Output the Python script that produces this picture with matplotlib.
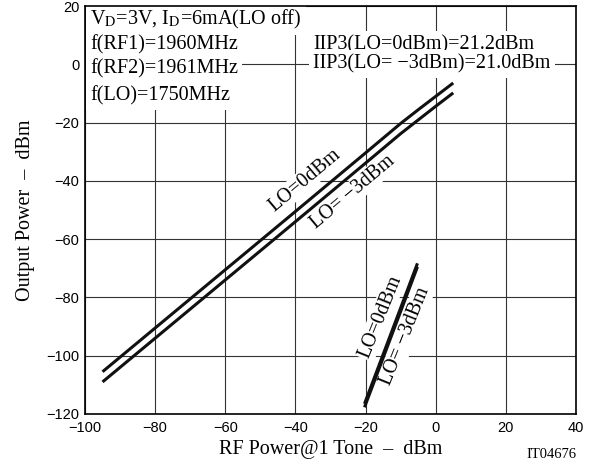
import numpy as np
import matplotlib.pyplot as plt

# fundamental output (dBm) vs RF input (dBm)
rf_in = [-95, -80, -60, -40, -20, -10, -5, 0, 5]
pout_lo0 = [-105.5, -90.5, -70.5, -50.5, -30.4, -20.3, -15.6, -11.0, -6.4]
pout_lo3 = [-109.0, -94.0, -74.0, -54.0, -33.9, -23.8, -19.1, -14.4, -9.8]

# third-order intermod products
im3_in = [-20.3, -5.2]
im3_lo0 = [-116.5, -68.3]
im3_lo3 = [-117.7, -69.5]

xticks = [-100, -80, -60, -40, -20, 0, 20, 40]
yticks = [-120, -100, -80, -60, -40, -20, 0, 20]

serif = 'Liberation Serif'
sans = 'Liberation Sans'

fig = plt.figure(figsize=(5.91, 4.65), dpi=100)
ax = fig.add_axes([0.1438, 0.1097, 0.8308, 0.8773])

ax.set_xlim(-100, 40)
ax.set_ylim(-120, 20)
ax.set_xticks(xticks)
ax.set_yticks(yticks)
ax.set_xticklabels([str(v).replace('-', '\u2212') for v in xticks], fontfamily=sans, fontsize=10.5)
ax.set_yticklabels([str(v).replace('-', '\u2212') for v in yticks], fontfamily=sans, fontsize=10.5)
ax.tick_params(axis='x', length=0, pad=5)
ax.tick_params(axis='y', length=0, pad=4)
ax.grid(True, color='#333333', lw=0.8)
ax.set_axisbelow(True)
for s in ax.spines.values():
    s.set_linewidth(1.2)

ax.plot(rf_in, pout_lo0, color='#111111', lw=2.2, solid_capstyle='butt', zorder=3)
ax.plot(rf_in, pout_lo3, color='#111111', lw=2.2, solid_capstyle='butt', zorder=3)
ax.plot(im3_in, im3_lo0, color='#111111', lw=2.2, solid_capstyle='butt', zorder=3)
ax.plot(im3_in, im3_lo3, color='#111111', lw=2.2, solid_capstyle='butt', zorder=3)

box = dict(facecolor='white', edgecolor='none', pad=3.0)
tkw = dict(fontfamily=serif, fontsize=14.5, bbox=box, zorder=2)

ax.text(-98.6, 15.5, r'V$_\mathrm{D}$=3V, I$_\mathrm{D}$=6mA(LO off)', va='center', ha='left',
        math_fontfamily='stix', **tkw)
ax.text(-98.6, 6.6, 'f(RF1)=1960MHz', va='center', ha='left', **tkw)
ax.text(-98.6, -1.6, 'f(RF2)=1961MHz', va='center', ha='left', **tkw)
ax.text(-98.6, -10.9, 'f(LO)=1750MHz', va='center', ha='left', **tkw)

ax.text(-35, 6.6, 'IIP3(LO=0dBm)=21.2dBm', va='center', ha='left', **tkw)
ax.text(-35, 0.1, 'IIP3(LO= \u22123dBm)=21.0dBm', va='center', ha='left', **tkw)

lkw = dict(tkw, bbox=dict(facecolor='white', edgecolor='none', pad=1.0))
ax.text(-37.2, -39.7, 'LO=0dBm', rotation=40, va='center', ha='center', **lkw)
ax.text(-23.5, -43.8, 'LO= \u22123dBm', rotation=40, va='center', ha='center', **lkw)
ax.text(-15.8, -86.6, 'LO=0dBm', rotation=68, va='center', ha='center', **lkw)
ax.text(-8.7, -93.4, 'LO= \u22123dBm', rotation=68, va='center', ha='center', **lkw)

ax.set_xlabel('RF Power@1 Tone  \u2013  dBm', fontfamily=serif, fontsize=14.5, labelpad=4)
ax.set_ylabel('Output Power  \u2013  dBm', fontfamily=serif, fontsize=14.5, labelpad=8)
fig.text(576 / 591, 1 - 458 / 465, 'IT04676', fontfamily=serif, fontsize=10.5, ha='right', va='baseline')

fig.savefig('out.png', dpi=100)
